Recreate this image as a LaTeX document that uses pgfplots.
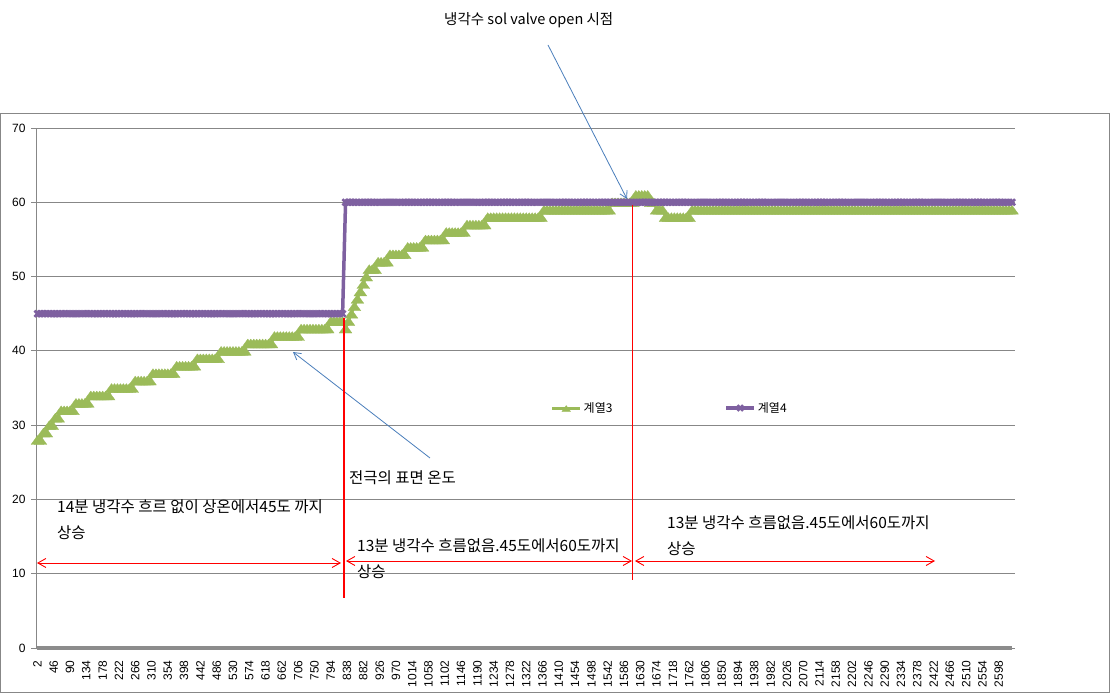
\documentclass[border=0pt]{standalone}
\usepackage{fontspec}
\setmainfont{Noto Sans CJK KR}
\newfontfamily\tickfont{Liberation Sans}
\usepackage{pgfplots}
\pgfplotsset{compat=1.18}
\usepackage{pgfplotstable}
\usetikzlibrary{arrows.meta}
\definecolor{g3}{HTML}{9BBB59}
\definecolor{p4}{HTML}{7E60A0}
\definecolor{gridc}{HTML}{878787}
\definecolor{bandc}{HTML}{8C8C8C}
\definecolor{ablue}{HTML}{4A7EBB}
\definecolor{pureRed}{HTML}{FF0000}
\pgfplotsset{
  glegend/.style={legend image code/.code={\draw[##1, mark size=4bp, line width=3bp, mark repeat=2, mark phase=2] plot coordinates {(0bp,0bp) (14bp,0bp) (28bp,0bp)};}},
  plegend/.style={legend image code/.code={\draw[##1, mark size=4bp, mark repeat=2, mark phase=2] plot coordinates {(0bp,0bp) (14bp,0bp) (28bp,0bp)};}}
}
\pgfplotstableread{
x g p
2 28 45
10 28 45
18 29 45
26 29 45
34 30 45
42 30 45
50 31 45
58 31 45
66 32 45
74 32 45
82 32 45
90 32 45
98 32 45
106 33 45
114 33 45
122 33 45
130 33 45
138 33 45
146 34 45
154 34 45
162 34 45
170 34 45
178 34 45
186 34 45
194 34 45
202 35 45
210 35 45
218 35 45
226 35 45
234 35 45
242 35 45
250 35 45
258 35 45
266 36 45
274 36 45
282 36 45
290 36 45
298 36 45
306 36 45
314 37 45
322 37 45
330 37 45
338 37 45
346 37 45
354 37 45
362 37 45
370 37 45
378 38 45
386 38 45
394 38 45
402 38 45
410 38 45
418 38 45
426 38 45
434 39 45
442 39 45
450 39 45
458 39 45
466 39 45
474 39 45
482 39 45
490 39 45
498 40 45
506 40 45
514 40 45
522 40 45
530 40 45
538 40 45
546 40 45
554 40 45
562 40 45
570 41 45
578 41 45
586 41 45
594 41 45
602 41 45
610 41 45
618 41 45
626 41 45
634 41 45
642 42 45
650 42 45
658 42 45
666 42 45
674 42 45
682 42 45
690 42 45
698 42 45
706 42 45
714 43 45
722 43 45
730 43 45
738 43 45
746 43 45
754 43 45
762 43 45
770 43 45
778 43 45
786 43 45
794 44 45
802 44 45
810 44 45
818 44 45
826 44 45
834 43 60
842 44 60
850 45 60
858 46 60
866 47 60
874 48 60
882 49 60
890 50 60
898 51 60
906 51 60
914 51 60
922 52 60
930 52 60
938 52 60
946 52 60
954 53 60
962 53 60
970 53 60
978 53 60
986 53 60
994 53 60
1002 54 60
1010 54 60
1018 54 60
1026 54 60
1034 54 60
1042 54 60
1050 55 60
1058 55 60
1066 55 60
1074 55 60
1082 55 60
1090 55 60
1098 55 60
1106 56 60
1114 56 60
1122 56 60
1130 56 60
1138 56 60
1146 56 60
1154 56 60
1162 57 60
1170 57 60
1178 57 60
1186 57 60
1194 57 60
1202 57 60
1210 57 60
1218 58 60
1226 58 60
1234 58 60
1242 58 60
1250 58 60
1258 58 60
1266 58 60
1274 58 60
1282 58 60
1290 58 60
1298 58 60
1306 58 60
1314 58 60
1322 58 60
1330 58 60
1338 58 60
1346 58 60
1354 58 60
1362 58 60
1370 59 60
1378 59 60
1386 59 60
1394 59 60
1402 59 60
1410 59 60
1418 59 60
1426 59 60
1434 59 60
1442 59 60
1450 59 60
1458 59 60
1466 59 60
1474 59 60
1482 59 60
1490 59 60
1498 59 60
1506 59 60
1514 59 60
1522 59 60
1530 59 60
1538 59 60
1546 59 60
1554 60 60
1562 60 60
1570 60 60
1578 60 60
1586 60 60
1594 60 60
1602 60 60
1610 60 60
1618 61 60
1626 61 60
1634 61 60
1642 61 60
1650 61 60
1658 60 60
1666 60 60
1674 59 60
1682 59 60
1690 59 60
1698 58 60
1706 58 60
1714 58 60
1722 58 60
1730 58 60
1738 58 60
1746 58 60
1754 58 60
1762 58 60
1770 59 60
1778 59 60
1786 59 60
1794 59 60
1802 59 60
1810 59 60
1818 59 60
1826 59 60
1834 59 60
1842 59 60
1850 59 60
1858 59 60
1866 59 60
1874 59 60
1882 59 60
1890 59 60
1898 59 60
1906 59 60
1914 59 60
1922 59 60
1930 59 60
1938 59 60
1946 59 60
1954 59 60
1962 59 60
1970 59 60
1978 59 60
1986 59 60
1994 59 60
2002 59 60
2010 59 60
2018 59 60
2026 59 60
2034 59 60
2042 59 60
2050 59 60
2058 59 60
2066 59 60
2074 59 60
2082 59 60
2090 59 60
2098 59 60
2106 59 60
2114 59 60
2122 59 60
2130 59 60
2138 59 60
2146 59 60
2154 59 60
2162 59 60
2170 59 60
2178 59 60
2186 59 60
2194 59 60
2202 59 60
2210 59 60
2218 59 60
2226 59 60
2234 59 60
2242 59 60
2250 59 60
2258 59 60
2266 59 60
2274 59 60
2282 59 60
2290 59 60
2298 59 60
2306 59 60
2314 59 60
2322 59 60
2330 59 60
2338 59 60
2346 59 60
2354 59 60
2362 59 60
2370 59 60
2378 59 60
2386 59 60
2394 59 60
2402 59 60
2410 59 60
2418 59 60
2426 59 60
2434 59 60
2442 59 60
2450 59 60
2458 59 60
2466 59 60
2474 59 60
2482 59 60
2490 59 60
2498 59 60
2506 59 60
2514 59 60
2522 59 60
2530 59 60
2538 59 60
2546 59 60
2554 59 60
2562 59 60
2570 59 60
2578 59 60
2586 59 60
2594 59 60
2602 59 60
2610 59 60
2618 59 60
2626 59 60
2634 59 60
}\datatable
\begin{document}
\begin{tikzpicture}[x=1bp,y=1bp]
\useasboundingbox (0,0) rectangle (1110,693);
\draw[gridc, line width=0.8bp] (0.5,0.5) rectangle (1109.5,580);
\begin{axis}[
  at={(36bp,45bp)}, anchor=south west,
  scale only axis, width=979bp, height=520bp,
  xmin=-2, xmax=2642, ymin=0, ymax=70,
  clip=false,
  axis lines*=left,
  axis line style={gridc, line width=0.8bp},
  ytick={0,10,...,70},
  xtick={2,46,...,2598},
  ymajorgrids,
  major grid style={gridc, line width=0.8bp},
  tick align=outside,
  major tick length=5bp,
  xtick style={draw=none},
  ytick style={gridc, line width=0.8bp},
  /pgf/number format/assume math mode=true,
  /pgf/number format/1000 sep={},
  ticklabel style={font=\tickfont\fontsize{12bp}{14bp}\selectfont, black},
  xticklabel style={yshift=-4bp, rotate=90, anchor=east},
  yticklabel style={xshift=-2bp},
  legend style={at={(rel axis cs:0.5225,0.4615)}, anchor=west, draw=none, fill=none,
    font=\fontsize{12bp}{14bp}\selectfont, legend columns=2,
    /tikz/every even column/.append style={column sep=110bp}},
  legend cell align=left,
]
\addplot[bandc, line width=4bp, forget plot] coordinates {(2,0) (2634,0)};
\addplot[g3, line width=2.5bp, mark=triangle*, mark size=5.9bp,
  mark options={solid, fill=g3, draw=g3, line width=0.3bp, xscale=1.25, yshift=-1.5bp}, glegend]
  table[x=x, y=g]{\datatable};
\addlegendentry{계열3}
\addplot[p4, line width=3.5bp, mark=x, mark size=4.3bp,
  mark options={solid, line width=2.6bp}, plegend]
  table[x=x, y=p]{\datatable};
\addlegendentry{계열4}
\end{axis}
% annotations
\begin{scope}[every node/.style={inner sep=0pt, anchor=west, font=\fontsize{15.5bp}{18bp}\selectfont}]
\node[font=\fontsize{14.5bp}{17bp}\selectfont] at (444,673) {냉각수 sol valve open 시점};
\node at (349,215) {전극의 표면 온도};
\node at (57,186) {14분 냉각수 흐르 없이 상온에서45도 까지};
\node at (57,160) {상승};
\node at (357,147) {13분 냉각수 흐름없음.45도에서60도까지};
\node at (357,121) {상승};
\node at (667,170) {13분 냉각수 흐름없음.45도에서60도까지};
\node at (667,144) {상승};
\end{scope}
\draw[ablue, line width=0.8bp, -{Straight Barb[length=7bp,width=8bp]}] (548,648) -- (627,494);
\draw[ablue, line width=0.8bp, -{Straight Barb[length=7bp,width=8bp]}] (430,235) -- (293,341);
\draw[pureRed, line width=1.2bp] (344,375) -- (344,95);
\draw[pureRed, line width=1.2bp] (632.6,488) -- (632.6,113);
\draw[pureRed, line width=0.9bp, {Straight Barb[length=8bp,width=9bp]}-{Straight Barb[length=8bp,width=9bp]}] (37,130) -- (341,130);
\draw[pureRed, line width=0.9bp, {Straight Barb[length=8bp,width=9bp]}-{Straight Barb[length=8bp,width=9bp]}] (346,132) -- (632,132);
\draw[pureRed, line width=0.9bp, {Straight Barb[length=8bp,width=9bp]}-{Straight Barb[length=8bp,width=9bp]}] (635,132) -- (935,132);
\end{tikzpicture}
\end{document}
